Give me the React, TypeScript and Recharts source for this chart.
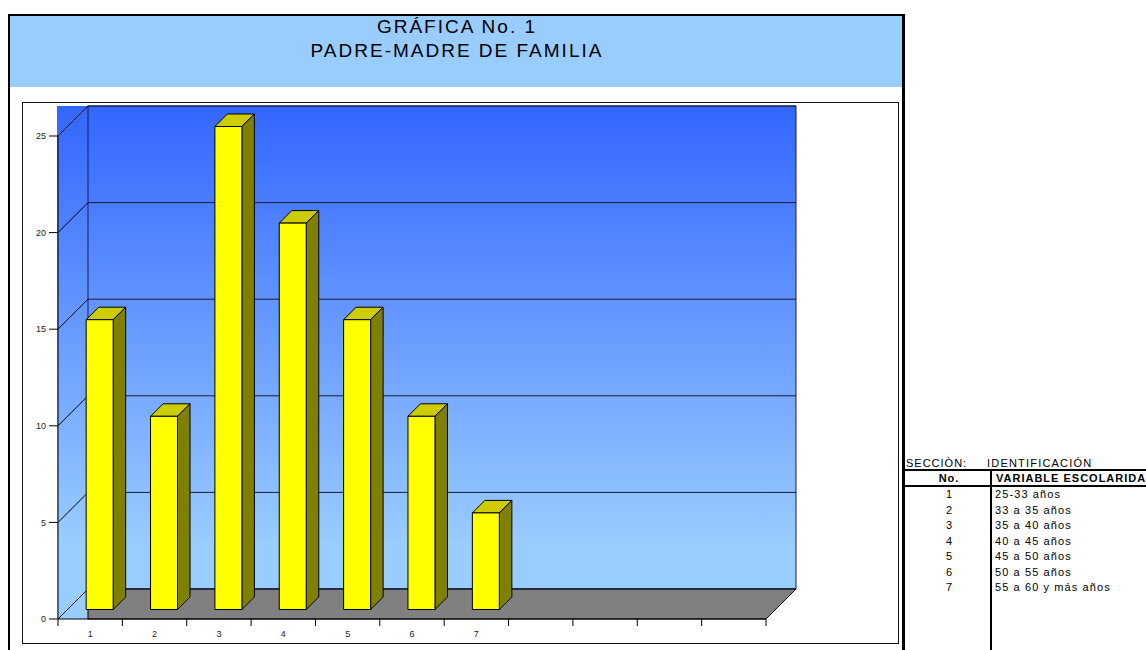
import React from 'react';
import { BarChart, Bar, XAxis, YAxis, CartesianGrid, ReferenceArea } from 'recharts';

const categories = ['1', '2', '3', '4', '5', '6', '7'];
const values = [15, 10, 25, 20, 15, 10, 5];
const emptySlots = 4; // empty places on the axis after the 7 groups
const yTicks = [0, 5, 10, 15, 20, 25];

const titleLines = ['GRÁFICA No. 1', 'PADRE-MADRE DE FAMILIA'];
const tableSection = 'SECCIÒN:';
const tableSectionName = 'IDENTIFICACIÓN';
const tableHeaders = ['No.', 'VARIABLE ESCOLARIDA'];
const ageRanges = [
  '25-33 años',
  '33 a 35 años',
  '35 a 40 años',
  '40 a 45 años',
  '45 a 50 años',
  '50 a 55 años',
  '55 a 60 y más años',
];

const FONT = '"Liberation Sans", Arial, sans-serif';
const CHART_W = 875;
const CHART_H = 540;
const MARGIN = { top: 33, right: 132, bottom: 4, left: 5 };
const Y_AXIS_W = 30;
const X_AXIS_H = 20;
const DEPTH = 30; // 3d depth of the walls
const BAR_SHIFT = 9.5; // bars sit a bit behind the front edge
const BAR_DEPTH = 12.5;

const slotCount = categories.length + emptySlots;
const PLOT_W = CHART_W - MARGIN.left - Y_AXIS_W - MARGIN.right;
const HALF_BAND = PLOT_W / slotCount / 2;

const data = [
  ...categories.map((c, i) => ({ slot: i, label: c, value: values[i] })),
  ...Array.from({ length: emptySlots }, (_, k) => ({ slot: categories.length + k, label: '', value: null })),
];

const Box3D = (props: any) => {
  const { x, y, width, height } = props;
  if (!height || height <= 0) return null;
  const fx = x + BAR_SHIFT;
  const fy = y - BAR_SHIFT;
  const b = BAR_DEPTH;
  return (
    <g stroke="#000" strokeWidth={1} strokeLinejoin="round">
      <polygon
        points={`${fx},${fy} ${fx + b},${fy - b} ${fx + width + b},${fy - b} ${fx + width},${fy}`}
        fill="#CCCC00"
      />
      <polygon
        points={`${fx + width},${fy} ${fx + width + b},${fy - b} ${fx + width + b},${fy + height - b} ${fx + width},${fy + height}`}
        fill="#808000"
      />
      <rect x={fx} y={fy} width={width} height={height} fill="#FFFF00" />
    </g>
  );
};

const Walls = (props: any) => {
  const { x, y, width, height } = props;
  const top = y - DEPTH;
  const floorBack = y + height - DEPTH;
  const floorFront = y + height;
  return (
    <g>
      <defs>
        <linearGradient id="wallFill" gradientUnits="userSpaceOnUse" x1={0} y1={top} x2={0} y2={floorFront}>
          <stop offset="0" stopColor="#3366FF" />
          <stop offset="0.85" stopColor="#99CCFF" />
          <stop offset="1" stopColor="#99CCFF" />
        </linearGradient>
      </defs>
      <rect x={x - 1} y={top} width={DEPTH + 1} height={height + DEPTH} fill="url(#wallFill)" />
      <rect x={x + DEPTH} y={top} width={width} height={height} fill="url(#wallFill)" stroke="#1a1a50" />
      <polygon
        points={`${x + DEPTH},${floorBack} ${x + width + DEPTH},${floorBack} ${x + width},${floorFront} ${x + DEPTH},${floorFront}`}
        fill="#808080"
        stroke="#000"
      />
    </g>
  );
};

const WallGridLine = (props: any) => {
  const { x1, x2, y1 } = props;
  return (
    <g key={props.key}>
      <line x1={x1} y1={y1} x2={x1 + DEPTH} y2={y1 - DEPTH} stroke="#000" />
      <line x1={x1 + DEPTH} y1={y1 - DEPTH} x2={x2 + DEPTH} y2={y1 - DEPTH} stroke="#1a1a40" />
    </g>
  );
};

const XTick = (props: any) => {
  const { x, y, payload } = props;
  const row = data.find((d) => d.slot === payload.value);
  const isLast = payload.value === slotCount - 1;
  return (
    <g>
      <line x1={x - HALF_BAND} y1={y} x2={x - HALF_BAND} y2={y + 7} stroke="#000" />
      {isLast && <line x1={x + HALF_BAND} y1={y} x2={x + HALF_BAND} y2={y + 7} stroke="#000" />}
      <text x={x} y={y + 18} textAnchor="middle" fontSize={9} fill="#222" fontFamily={FONT}>
        {row ? row.label : ''}
      </text>
    </g>
  );
};

const abs = (left: number, top: number, extra: React.CSSProperties = {}): React.CSSProperties => ({
  position: 'absolute',
  left,
  top,
  ...extra,
});

export default function App() {
  return (
    <div style={{ position: 'absolute', left: 0, top: 0, width: 1146, height: 650, overflow: 'hidden', background: '#fff', fontFamily: FONT, color: '#000' }}>
      {/* outer frame */}
      <div style={abs(8, 14, { width: 897, height: 660, borderLeft: '2px solid #000', borderTop: '2px solid #000', borderRight: '3px solid #000', boxSizing: 'border-box' })} />
      <div style={abs(10, 16, { width: 892, height: 71, background: '#99CCFF' })} />
      {titleLines.map((t, i) => (
        <div key={t} style={abs(10, 15 + i * 24, { width: 892, lineHeight: '24px', fontSize: 19, letterSpacing: 2, paddingLeft: 2, boxSizing: 'border-box', textAlign: 'center', whiteSpace: 'nowrap' })}>
          {t}
        </div>
      ))}

      {/* chart box */}
      <div style={abs(22, 102, { width: 877, height: 542, border: '1px solid #111', boxSizing: 'border-box', background: '#fff' })} />
      <div style={abs(23, 103)}>
        <BarChart width={CHART_W} height={CHART_H} data={data} margin={MARGIN} barCategoryGap="29%">
          <ReferenceArea y1={0} y2={25} ifOverflow="visible" shape={Walls} zIndex={-200} />
          <CartesianGrid vertical={false} horizontal={WallGridLine} zIndex={-100} />
          <XAxis
            dataKey="slot"
            type="category"
            height={X_AXIS_H}
            interval={0}
            tickLine={false}
            tickSize={0}
            tickMargin={0}
            tick={<XTick />}
            axisLine={{ stroke: '#000' }}
          />
          <YAxis
            width={Y_AXIS_W}
            domain={[0, 25]}
            ticks={yTicks}
            interval={0}
            tickSize={9}
            tickMargin={3}
            tickLine={{ stroke: '#000' }}
            axisLine={{ stroke: '#000' }}
            tick={{ fontSize: 9, fill: '#222', fontFamily: FONT }}
          />
          <Bar dataKey="value" shape={Box3D} isAnimationActive={false} />
        </BarChart>
      </div>

      {/* side table */}
      <div style={abs(906, 456, { fontSize: 11, lineHeight: '14px', letterSpacing: 1, whiteSpace: 'nowrap' })}>{tableSection}</div>
      <div style={abs(987, 456, { fontSize: 11, lineHeight: '14px', letterSpacing: 1.2, whiteSpace: 'nowrap' })}>{tableSectionName}</div>
      <div style={abs(902, 469, { width: 244, height: 2, background: '#000' })} />
      <div style={abs(906, 471, { width: 86, fontSize: 11, lineHeight: '14px', fontWeight: 'bold', letterSpacing: 1, textAlign: 'center' })}>{tableHeaders[0]}</div>
      <div style={abs(996, 471, { fontSize: 11, lineHeight: '14px', fontWeight: 'bold', letterSpacing: 1, whiteSpace: 'nowrap' })}>{tableHeaders[1]}</div>
      <div style={abs(902, 485, { width: 244, height: 2, background: '#000' })} />
      <div style={abs(990, 469, { width: 2, height: 190, background: '#000' })} />
      {ageRanges.map((r, i) => (
        <React.Fragment key={r}>
          <div style={abs(906, 487 + i * 15.5, { width: 86, fontSize: 11, lineHeight: '14px', textAlign: 'center' })}>{categories[i]}</div>
          <div style={abs(995, 487 + i * 15.5, { fontSize: 11, lineHeight: '14px', letterSpacing: 1.1, whiteSpace: 'nowrap' })}>{r}</div>
        </React.Fragment>
      ))}
    </div>
  );
}
